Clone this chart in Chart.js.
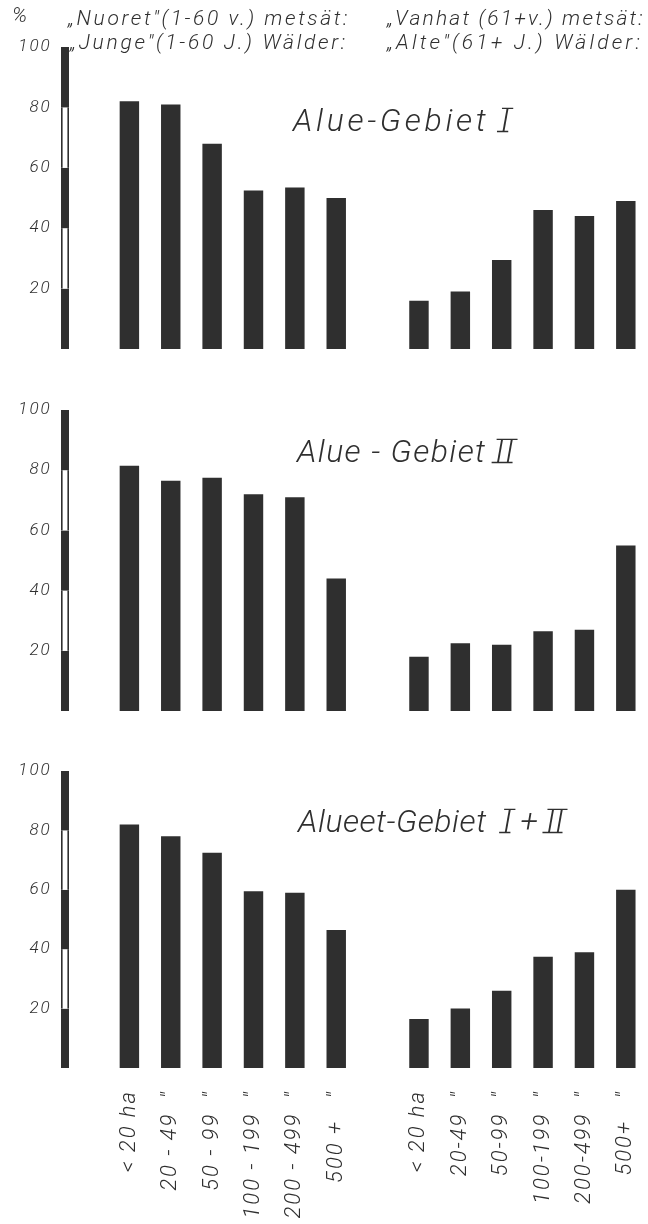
<!DOCTYPE html>
<html>
<head>
<meta charset="utf-8">
<script src="https://cdn.jsdelivr.net/npm/chart.js@4.4.0/dist/chart.umd.min.js"></script>
<style>
  html, body { margin: 0; padding: 0; background: #fff; }
  body { width: 648px; height: 1224px; position: relative; overflow: hidden; }
  canvas { position: absolute; left: 0; display: block; }
</style>
</head>
<body>
<canvas id="chart-gebiet1" width="648" height="380" style="top:0"></canvas>
<canvas id="chart-gebiet2" width="648" height="360" style="top:380px"></canvas>
<canvas id="chart-gebiet12" width="648" height="484" style="top:740px"></canvas>
<script>
// Größenklassen (ha) der Waldbesitze
const klassenJung = ['< 20 ha', '20 - 49  "', '50 - 99  "', '100 - 199  "', '200 - 499  "', '500 +   "'];
const klassenAlt = ['< 20 ha', '20-49  "', '50-99  "', '100-199  "', '200-499  "', '500+   "'];

// Anteil (%) junger (1-60 J.) und alter (61+ J.) Wälder
const jungeGebiet1 = [82, 81, 68, 52.5, 53.5, 50];
const alteGebiet1 = [16, 19, 29.5, 46, 44, 49];
const jungeGebiet2 = [81.5, 76.5, 77.5, 72, 71, 44];
const alteGebiet2 = [18, 22.5, 22, 26.5, 27, 55];
const jungeGebiet12 = [82, 78, 72.5, 59.5, 59, 46.5];
const alteGebiet12 = [16.5, 20, 26, 37.5, 39, 60];

const yTicks = [20, 40, 60, 80, 100];

const INK = '#2f2f2f';
const FONT = 'Roboto, "DejaVu Sans", sans-serif';

function buildLabels() {
  return [...klassenJung, '', ...klassenAlt];
}

function buildData(junge, alte) {
  return [...junge, null, ...alte];
}

// Text so sperren, dass er die Breite der Vorlage erreicht
function fitText(ctx, text, x, y, width) {
  ctx.letterSpacing = '0px';
  const w = ctx.measureText(text).width;
  const spacing = Math.max(0, (width - w) / text.length);
  ctx.letterSpacing = spacing.toFixed(2) + 'px';
  ctx.fillText(text, x, y);
}

function drawTitle(ctx, parts, x, y, size, width) {
  ctx.font = `italic 300 ${size}px ${FONT}`;
  ctx.fillStyle = INK;
  ctx.textBaseline = 'alphabetic';
  ctx.textAlign = 'left';
  ctx.letterSpacing = '0px';
  const plain = parts.map((p) => p.t).join('');
  const spacing = Math.max(0, (width - ctx.measureText(plain).width) / plain.length);
  ctx.letterSpacing = spacing.toFixed(2) + 'px';
  let cx = x;
  parts.forEach((p) => {
    const w = ctx.measureText(p.t).width;
    ctx.fillText(p.t, cx, y);
    if (p.roman) {
      // römische Ziffer mit Querbalken oben und unten
      const capTop = y - size * 0.71;
      ctx.strokeStyle = INK;
      ctx.lineWidth = 1.3;
      ctx.beginPath();
      ctx.moveTo(cx + 1, capTop);
      ctx.lineTo(cx + w - spacing + 4, capTop);
      ctx.moveTo(cx - 4, y + 0.5);
      ctx.lineTo(cx + w - spacing - 1, y + 0.5);
      ctx.stroke();
    }
    cx += w;
  });
}

const panelDeko = {
  id: 'panelDeko',
  beforeDraw(chart) {
    // weit gesperrte Handschrift auch für die Achsenbeschriftung
    chart.ctx.letterSpacing = '2px';
  },
  afterDraw(chart, args, opts) {
    const { ctx } = chart;
    const y = chart.scales.y;
    ctx.save();
    // Skalenbalken links, schwarz/weiß alle 20 %
    for (let i = 0; i < 5; i++) {
      const top = y.getPixelForValue((i + 1) * 20);
      const bottom = y.getPixelForValue(i * 20);
      if (i % 2 === 0) {
        ctx.fillStyle = INK;
        ctx.fillRect(61, top, 8, bottom - top);
      } else {
        ctx.fillStyle = '#fff';
        ctx.fillRect(61, top, 8, bottom - top);
        ctx.fillStyle = INK;
        ctx.fillRect(61, top, 1.6, bottom - top);
        ctx.fillRect(67.4, top, 1.6, bottom - top);
      }
    }
    drawTitle(ctx, opts.title, opts.titleX, opts.titleY, 32, opts.titleWidth);

    if (opts.header) {
      ctx.font = `italic 300 21px ${FONT}`;
      ctx.fillStyle = INK;
      ctx.textAlign = 'left';
      ctx.letterSpacing = '0px';
      ctx.fillText('%', 12, 22);
      fitText(ctx, '„Nuoret"(1-60 v.) metsät:', 68, 25, 282);
      fitText(ctx, '„Junge"(1-60 J.) Wälder:', 70, 49, 278);
      fitText(ctx, '„Vanhat (61+v.) metsät:', 387, 25, 258);
      fitText(ctx, '„Alte"(61+ J.) Wälder:', 387, 49, 256);
    }
    ctx.restore();
  }
};

function makeChart(id, junge, alte, deko, padTop, padBottom, showX) {
  return new Chart(document.getElementById(id), {
    type: 'bar',
    data: {
      labels: buildLabels(),
      datasets: [
        {
          data: buildData(junge, alte),
          backgroundColor: INK,
          borderWidth: 0,
          barPercentage: 0.47,
          categoryPercentage: 1
        }
      ]
    },
    options: {
      responsive: false,
      animation: false,
      events: [],
      layout: { padding: { top: padTop, bottom: padBottom, left: 0, right: 1.5 } },
      plugins: {
        legend: { display: false },
        tooltip: { enabled: false },
        panelDeko: deko
      },
      scales: {
        x: {
          display: showX,
          grid: { display: false, drawTicks: false },
          border: { display: false },
          ticks: {
            autoSkip: false,
            minRotation: 90,
            maxRotation: 90,
            padding: 22,
            color: INK,
            font: { family: FONT, size: 22, style: 'italic', weight: 300 }
          },
          afterFit: (scale) => {
            scale.height = showX ? 156 : 0;
            scale.paddingLeft = 0;
            scale.paddingRight = 0;
          }
        },
        y: {
          min: 0,
          max: 100,
          grid: { display: false, drawTicks: false },
          border: { display: false },
          afterBuildTicks: (scale) => { scale.ticks = yTicks.map((v) => ({ value: v })); },
          ticks: {
            padding: 57,
            color: INK,
            font: { family: FONT, size: 17, style: 'italic', weight: 300 }
          },
          afterFit: (scale) => {
            scale.width = 108.7;
            scale.paddingTop = 0;
            scale.paddingBottom = 0;
          }
        }
      }
    },
    plugins: [panelDeko]
  });
}

makeChart('chart-gebiet1', jungeGebiet1, alteGebiet1, {
  header: true,
  title: [{ t: 'Alue-Gebiet ' }, { t: 'I', roman: true }],
  titleX: 293, titleY: 131, titleWidth: 220
}, 47, 31, false);

makeChart('chart-gebiet2', jungeGebiet2, alteGebiet2, {
  title: [{ t: 'Alue - Gebiet ' }, { t: 'II', roman: true }],
  titleX: 297, titleY: 82, titleWidth: 218
}, 30, 29, false);

makeChart('chart-gebiet12', jungeGebiet12, alteGebiet12, {
  title: [{ t: 'Alueet-Gebiet  ' }, { t: 'I', roman: true }, { t: ' + ' }, { t: 'II', roman: true }],
  titleX: 298, titleY: 92, titleWidth: 266
}, 31, 0, true);
</script>
</body>
</html>
